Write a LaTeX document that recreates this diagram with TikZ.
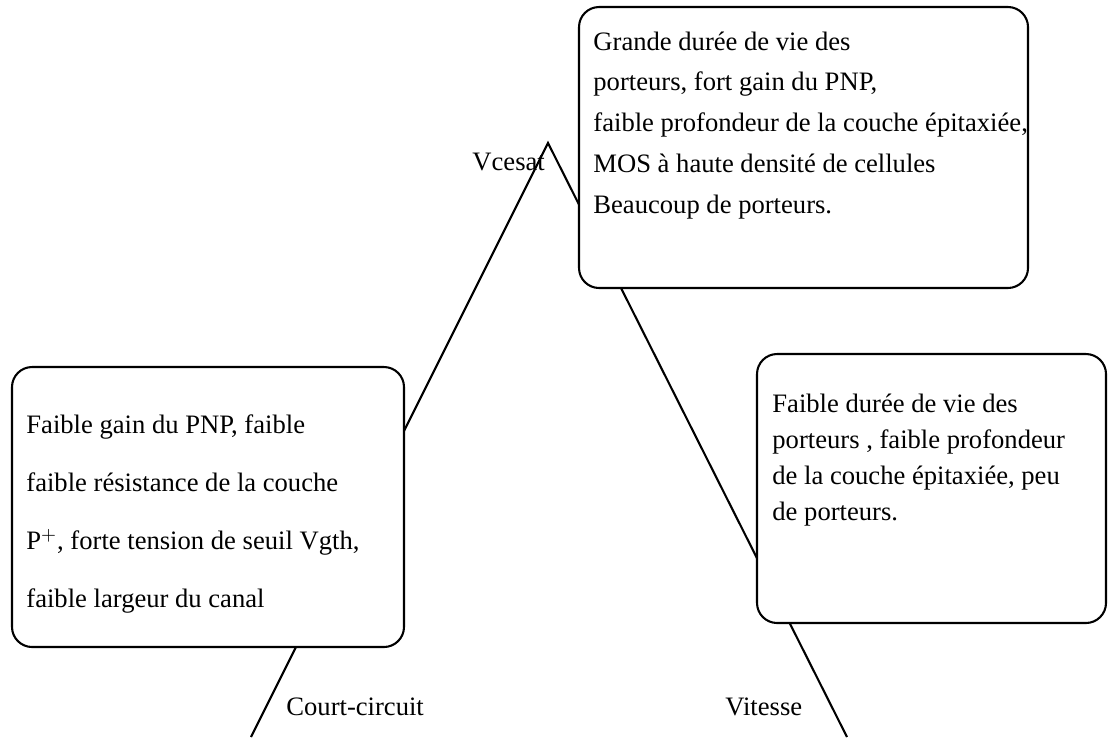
\documentclass[tikz,border=0pt]{standalone}
\usepackage{fontspec}
\setmainfont{Liberation Serif}
\usetikzlibrary{positioning,fit}

\begin{document}
\begin{tikzpicture}[x=0.0169cm,y=-0.0169cm,
  box/.style={draw,line width=1pt,rounded corners=0.34cm,fill=white,inner sep=0pt},
  txt/.style={anchor=base west,align=left,inner sep=0pt},
  lbl/.style={anchor=base west,inner sep=0pt,font=\fontsize{12.8}{15}\selectfont}]
 \useasboundingbox (0,0) rectangle (1108,737);
 % the two sides of the triangle
 \coordinate (apex) at (548,143);
 \coordinate (cc) at (251,737);
 \coordinate (vit) at (847,737);
 \draw[line width=1pt] (cc) -- (apex) -- (vit);
 % boxes laid over the sides (text placed by its last baseline)
 \node[box,fit={(579,7) (1028,288)}] (top) {};
 \node[box,fit={(12,367) (404,647)}] (left) {};
 \node[box,fit={(757,354) (1106,623)}] (right) {};
 \node[txt,font=\fontsize{12.8}{19.6}\selectfont] (toptxt) at (593,213)
   {Grande durée de vie des\\porteurs, fort gain du PNP,\\faible profondeur de la couche épitaxiée,\\MOS à haute densité de cellules\\Beaucoup de porteurs.};
 \node[txt,font=\fontsize{12.8}{27.8}\selectfont] (lefttxt) at (26,607)
   {Faible gain du PNP, faible\\faible résistance de la couche\\P$^{+}$, forte tension de seuil Vgth,\\faible largeur du canal};
 \node[txt,font=\fontsize{12.8}{17.3}\selectfont] (righttxt) at (772,520)
   {Faible durée de vie des\\porteurs , faible profondeur\\de la couche épitaxiée, peu\\de porteurs.};
 % corner labels
 \node[lbl] (vcesat) at (472,170) {Vcesat};
 \node[lbl] (court) at (286,715) {Court-circuit};
 \node[lbl] (vitesse) at (725,715) {Vitesse};
\end{tikzpicture}
\end{document}
